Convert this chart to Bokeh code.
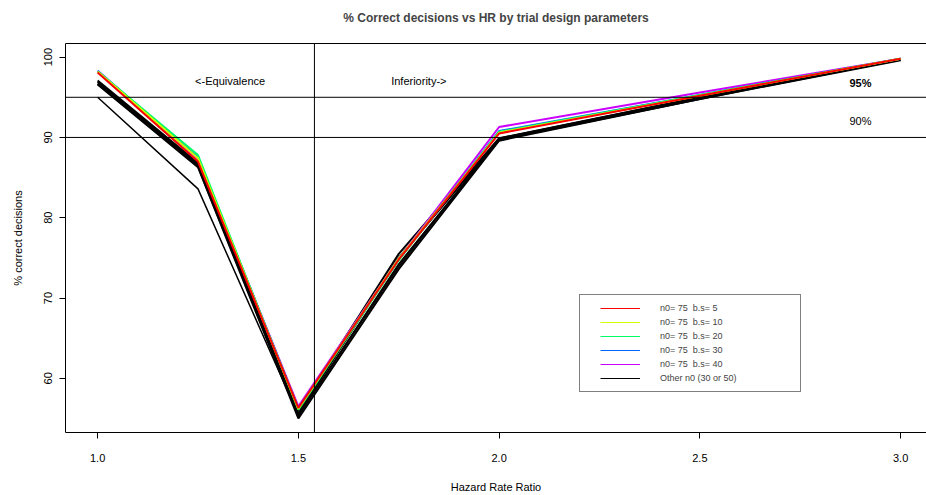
import numpy as np
from bokeh.plotting import figure
from bokeh.models import Span, Legend, LegendItem, LinearAxis, FixedTicker, Range1d
from bokeh.core.properties import value
from bokeh.embed import file_html
from bokeh.resources import INLINE

FONT = "Liberation Sans"

# Hazard rate ratios at which the designs were evaluated
hr = [1.0, 1.25, 1.5, 1.75, 2.0, 2.5, 3.0]

# % correct decisions, n0 = 75 with varying b.s
n75_bs5 = [98.1, 87.0, 56.3, 74.8, 90.5, 95.2, 99.8]
n75_bs10 = [98.2, 87.4, 56.2, 74.9, 90.6, 95.2, 99.8]
n75_bs20 = [98.2, 87.8, 56.1, 74.7, 90.7, 95.3, 99.8]
n75_bs30 = [98.3, 87.5, 56.3, 74.8, 90.8, 95.3, 99.8]
n75_bs40 = [98.3, 87.3, 56.5, 74.9, 91.3, 95.6, 99.8]

# Other n0 (30 or 50)
other_a = [97.1, 86.8, 56.0, 75.5, 89.9, 95.0, 99.8]
other_b = [96.9, 86.6, 55.6, 75.0, 89.8, 94.9, 99.7]
other_c = [96.7, 86.4, 55.3, 74.2, 89.7, 94.8, 99.7]
other_d = [96.6, 86.3, 55.0, 73.6, 89.6, 94.8, 99.6]
other_e = [95.0, 83.6, 55.4, 73.9, 89.9, 95.0, 99.8]

colored_series = [n75_bs5, n75_bs10, n75_bs20, n75_bs30, n75_bs40]
colored_labels = ["n0= 75  b.s= 5", "n0= 75  b.s= 10", "n0= 75  b.s= 20",
                  "n0= 75  b.s= 30", "n0= 75  b.s= 40"]
colors = ["#FF0000", "#CCFF00", "#00FF66", "#0066FF", "#CC00FF"]
other_series = [other_a, other_b, other_c, other_d, other_e]
other_label = "Other n0 (30 or 50)"

x_ticks = [1.0, 1.5, 2.0, 2.5, 3.0]
y_ticks = [60, 70, 80, 90, 100]

p = figure(width=926, height=495, output_backend="svg", toolbar_location=None,
           x_range=Range1d(0.92, 3.0645), y_range=Range1d(53.25, 101.7),
           min_border_left=65, min_border_right=0, min_border_top=43,
           min_border_bottom=62,
           title="% Correct decisions vs HR by trial design parameters")
p.grid.visible = False
p.outline_line_color = None
p.background_fill_color = "white"
p.border_fill_color = "white"

p.title.text_font = FONT
p.title.text_font_size = "12px"
p.title.text_font_style = "bold"
p.title.align = "center"
p.title.standoff = 16

for ax in (p.xaxis[0], p.yaxis[0]):
    ax.axis_line_color = "black"
    ax.major_tick_line_color = "black"
    ax.major_tick_out = 6
    ax.major_tick_in = 0
    ax.minor_tick_line_color = None
    ax.major_label_text_font = FONT
    ax.major_label_text_font_size = "11px"
    ax.major_label_text_color = "black"
    ax.axis_label_text_font = FONT
    ax.axis_label_text_font_size = "11px"
    ax.axis_label_text_font_style = "normal"
    ax.axis_label_text_color = "black"

p.xaxis.ticker = FixedTicker(ticks=x_ticks)
p.xaxis.major_label_overrides = {t: f"{t:.1f}" for t in x_ticks}
p.xaxis.axis_label = "Hazard Rate Ratio"
p.xaxis.major_label_standoff = 15
p.xaxis.axis_label_standoff = 16

p.yaxis.ticker = FixedTicker(ticks=y_ticks)
p.yaxis.major_label_orientation = "vertical"
p.yaxis.axis_label = "% correct decisions"
p.yaxis.major_label_standoff = 7
p.yaxis.axis_label_standoff = 18

# top edge of the plot box; its blank label keeps room between box and title
top = LinearAxis(axis_line_color="black", major_tick_line_color=None,
                 minor_tick_line_color=None, major_label_text_font_size="0px",
                 ticker=FixedTicker(ticks=[]), axis_label=" ",
                 axis_label_text_font_size="1px", axis_label_standoff=7)
p.add_layout(top, "above")

# reference levels and boundary between equivalence / inferiority
for lvl in (95, 90):
    p.add_layout(Span(location=lvl, dimension="width", line_color="black", line_width=1))
p.add_layout(Span(location=1.54, dimension="height", line_color="black", line_width=1))

p.text(x=[1.33, 1.80, 2.90], y=[97.0, 97.0, 92.0],
       text=["<-Equivalence", "Inferiority->", "90%"],
       text_font=value(FONT), text_font_size="11px", text_color="black",
       text_align="center", text_baseline="middle")
p.text(x=[2.90], y=[96.8], text=["95%"], text_font=value(FONT),
       text_font_size="11px", text_font_style="bold", text_color="black",
       text_align="center", text_baseline="middle")

for i, ys in enumerate(other_series):
    p.line(hr, ys, line_color="black", line_width=2 if i < 4 else 1.5)

for ys, col in reversed(list(zip(colored_series, colors))):
    p.line(hr, ys, line_color=col, line_width=2)

# thin key samples for the legend (a single undefined point, so nothing is
# drawn in the plot); the dash pattern leaves a blank lead-in before the sample
nan_pt = np.array([np.nan])
items = []
for col, lab in zip(colors + ["black"], colored_labels + [other_label]):
    key = p.line(nan_pt, nan_pt, line_color=col, line_width=1,
                 line_dash="0 14 40 100")
    items.append(LegendItem(label=lab, renderers=[key]))

legend = Legend(items=items, location=(514, 40), padding=6, spacing=0,
                glyph_width=54, glyph_height=14, label_height=14, label_width=134,
                label_standoff=20, label_text_font=FONT, label_text_font_size="9px",
                border_line_color="black", border_line_width=1,
                background_fill_color="white", background_fill_alpha=1.0, margin=0)
p.add_layout(legend, "center")

open("out.html", "w").write(file_html(p, INLINE))
